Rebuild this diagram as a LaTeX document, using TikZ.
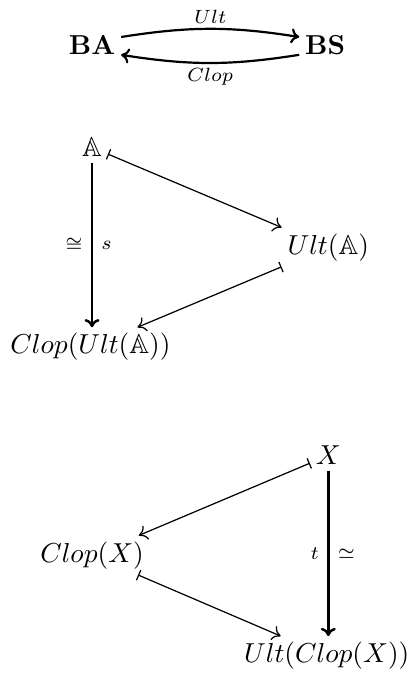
\documentclass[tikz,border=0pt]{standalone}
\usepackage{amsmath,amssymb}
\usepackage{tikz}
\usetikzlibrary{arrows.meta, positioning, calc}

\tikzset{
  obj/.style={inner sep=2pt},
  lbl/.style={font=\scriptsize, inner sep=1.5pt},
  side/.style={font=\scriptsize, inner sep=3pt},
  iso/.style={line width=0.9pt, -{To[length=3pt,width=5.5pt]}},
  fun/.style={line width=0.8pt, -{To[length=3pt,width=5.5pt]}},
  elt/.style={line width=0.45pt, {Bar[width=4pt]}-{To[length=3pt,width=5.5pt]}}
}

\begin{document}
\begin{tikzpicture}[x=1mm,y=1mm]
  \path[use as bounding box] (0,0) rectangle (52.2,87.2);

  % the two functors
  \node[obj] (BA) at (11.8,81.4) {$\mathbf{BA}$};
  \node[obj] (BS) at (41.7,81.4) {$\mathbf{BS}$};
  \draw[fun] ([yshift=3pt]BA.east) to[bend left=9]
    node[lbl,above] {$Ult$} ([yshift=3pt]BS.west);
  \draw[fun] ([yshift=-3.5pt]BS.west) to[bend left=9]
    node[lbl,below] {$Clop$} ([yshift=-3.5pt]BA.west -| BA.east);

  % unit on the algebra side
  \node[obj] (A) at (11.8,68.3) {$\mathbb{A}$};
  \node[obj] (UA) at (42.1,55.5) {$Ult(\mathbb{A})$};
  \node[obj] (CUA) at (11.6,42.7) {$Clop(Ult(\mathbb{A}))$};
  \draw[iso] (A.south) -- (A |- CUA.north)
    node[side,midway,left] {$\cong$} node[side,midway,right] {$s$};
  \draw[elt] (A) -- (UA);
  \draw[elt] (UA) -- (CUA);

  % unit on the space side
  \node[obj] (X) at (42.1,28.8) {$X$};
  \node[obj] (CX) at (11.8,16.0) {$Clop(X)$};
  \node[obj] (UCX) at (41.9,3.1) {$Ult(Clop(X))$};
  \draw[iso] (X.south) -- (X |- UCX.north)
    node[side,midway,left] {$t$} node[side,midway,right] {$\simeq$};
  \draw[elt] (X) -- (CX);
  \draw[elt] (CX) -- (UCX);
\end{tikzpicture}
\end{document}
